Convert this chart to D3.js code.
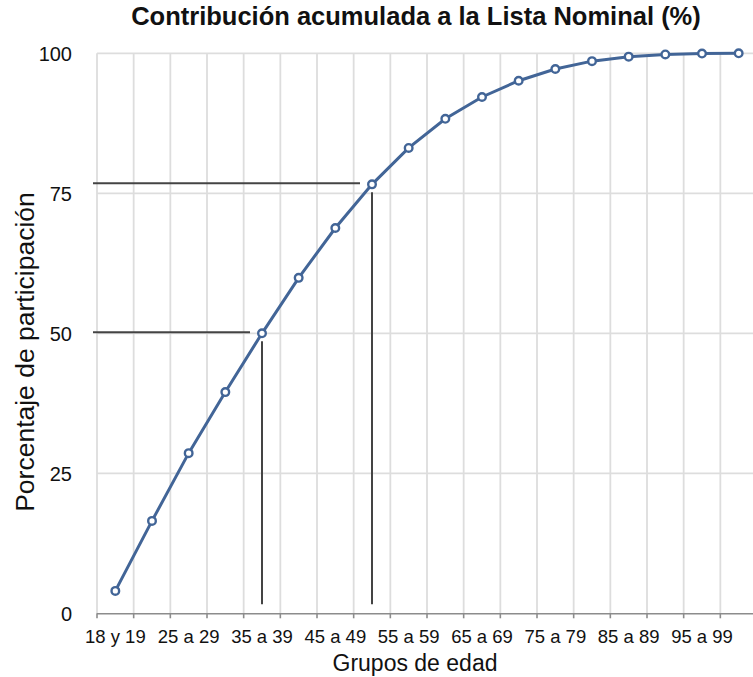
<!DOCTYPE html>
<html>
  <head>
    <script src="https://cdn.jsdelivr.net/npm/d3@7/dist/d3.min.js"></script>
    <style>
      body { margin: 0; background: #fff; }
      text { font-family: "Liberation Sans", Arial, sans-serif; fill: #111; }
    </style>
  </head>
  <body>
    <svg width="753" height="677"></svg>

    <script type="text/javascript">
      // grupos de edad
      var categories = [
        "18 y 19", "20 a 24", "25 a 29", "30 a 34", "35 a 39", "40 a 44",
        "45 a 49", "50 a 54", "55 a 59", "60 a 64", "65 a 69", "70 a 74",
        "75 a 79", "80 a 84", "85 a 89", "90 a 94", "95 a 99", "100 y más"
      ];
      // porcentaje acumulado
      var values = [
        4.0, 16.5, 28.6, 39.5, 50.0, 59.9, 68.8, 76.6, 83.1, 88.3, 92.2,
        95.1, 97.2, 98.6, 99.4, 99.8, 99.95, 100
      ];
      var yTicks = [0, 25, 50, 75, 100];
      // lineas guia (grupo, valor)
      var guideCats = ["35 a 39", "50 a 54"];
      var guideValues = [50, 76.6];

      var svg = d3.select("svg");
      var lineColor = "#426597";

      var x = d3.scaleBand().domain(categories).range([97, 757]).padding(0);
      var y = d3.scaleLinear().domain([0, 100]).range([613.3, 53.3]);
      var cx = (d) => x(d) + x.bandwidth() / 2;

      // grid
      svg.append("g")
        .selectAll("line")
        .data(categories)
        .enter()
        .append("line")
        .attr("x1", (d) => x(d))
        .attr("x2", (d) => x(d))
        .attr("y1", y(100))
        .attr("y2", y(0))
        .attr("stroke", "#dddddd")
        .attr("stroke-width", 1.8);

      svg.append("g")
        .selectAll("line")
        .data(yTicks.filter((d) => d > 0))
        .enter()
        .append("line")
        .attr("x1", x.range()[0])
        .attr("x2", x.range()[1])
        .attr("y1", (d) => y(d))
        .attr("y2", (d) => y(d))
        .attr("stroke", "#dddddd")
        .attr("stroke-width", 1.8);

      // x axis
      var xAxis = svg.append("g");
      xAxis.append("line")
        .attr("x1", x.range()[0])
        .attr("x2", x.range()[1])
        .attr("y1", y(0) + 0.5)
        .attr("y2", y(0) + 0.5)
        .attr("stroke", "#8c8c8c")
        .attr("stroke-width", 1.6);
      xAxis.selectAll(".tick")
        .data(categories)
        .enter()
        .append("line")
        .attr("class", "tick")
        .attr("x1", (d) => x(d))
        .attr("x2", (d) => x(d))
        .attr("y1", y(0))
        .attr("y2", y(0) + 5)
        .attr("stroke", "#8c8c8c")
        .attr("stroke-width", 1.6);
      xAxis.selectAll("text")
        .data(categories.filter((d, i) => i % 2 == 0))
        .enter()
        .append("text")
        .attr("x", (d) => cx(d))
        .attr("y", 643)
        .attr("text-anchor", "middle")
        .attr("font-size", 18.5)
        .text((d) => d);

      // y axis labels
      svg.append("g")
        .selectAll("text")
        .data(yTicks)
        .enter()
        .append("text")
        .attr("x", 72)
        .attr("y", (d) => y(d))
        .attr("dy", "0.36em")
        .attr("text-anchor", "end")
        .attr("font-size", 20)
        .text((d) => d);

      // guide lines
      guideCats.forEach((c, i) => {
        var px = cx(c);
        var py = y(guideValues[i]);
        svg.append("line")
          .attr("x1", x.range()[0] - 4)
          .attr("x2", px - 12)
          .attr("y1", py - 1)
          .attr("y2", py - 1)
          .attr("stroke", "#444")
          .attr("stroke-width", 2);
        svg.append("line")
          .attr("x1", px)
          .attr("x2", px)
          .attr("y1", py + 8)
          .attr("y2", y(0) - 9)
          .attr("stroke", "#444")
          .attr("stroke-width", 2);
      });

      // serie
      var line = d3.line()
        .x((d, i) => cx(categories[i]))
        .y((d) => y(d));

      svg.append("path")
        .attr("d", line(values))
        .attr("fill", "none")
        .attr("stroke", lineColor)
        .attr("stroke-width", 3);

      svg.append("g")
        .selectAll("circle")
        .data(values)
        .enter()
        .append("circle")
        .attr("cx", (d, i) => cx(categories[i]))
        .attr("cy", (d) => y(d))
        .attr("r", 3.8)
        .attr("fill", "#fff")
        .attr("stroke", lineColor)
        .attr("stroke-width", 2.4);

      // titles
      svg.append("text")
        .attr("x", 416)
        .attr("y", 25)
        .attr("text-anchor", "middle")
        .attr("font-size", 25.5)
        .attr("font-weight", "bold")
        .text("Contribución acumulada a la Lista Nominal (%)");

      svg.append("text")
        .attr("x", 415)
        .attr("y", 671)
        .attr("text-anchor", "middle")
        .attr("font-size", 23)
        .text("Grupos de edad");

      svg.append("text")
        .attr("transform", "translate(34, 352) rotate(-90)")
        .attr("text-anchor", "middle")
        .attr("font-size", 26.5)
        .text("Porcentaje de participación");
    </script>
  </body>
</html>
